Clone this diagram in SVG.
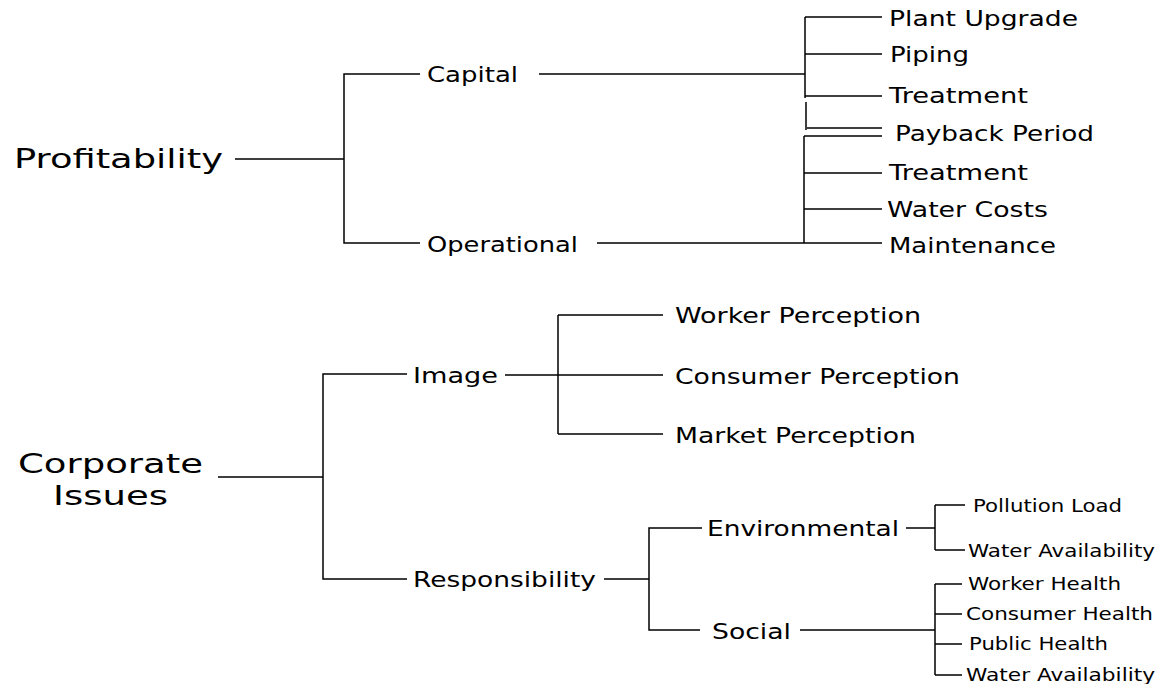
<svg xmlns="http://www.w3.org/2000/svg" width="1160" height="684" viewBox="0 0 1160 684">
  <style>
    text { font-family: "DejaVu Sans", Verdana, sans-serif; fill: #000; }
    .root { font-size: 26px; }
    .big { font-size: 26px; }
    .l1 { font-size: 21px; }
    .l3 { font-size: 17.5px; }
    .wire { fill: none; stroke: #000; stroke-width: 1.5; }
  </style>
  <rect width="1160" height="684" fill="#fff"/>

  <!-- connectors -->
  <g id="connectors" class="wire">
    <!-- Profitability tree -->
    <path d="M235 159 H344 M420 74 H344 V243 H420"/>
    <path d="M539 74 H805 M805 17 V98 M806 102 V130"/>
    <path d="M805 17 H882 M805 54 H882 M805 96 H882 M807 128 H882"/>
    <path d="M597 243 H804 M804 136 V243 M804 136 H882 M804 173 H882 M804 209 H882 M804 243 H882"/>
    <!-- Corporate Issues tree -->
    <path d="M218 477 H323 M407 374 H323 V579 H407"/>
    <path d="M505 375 H558 M558 315 V434 M558 315 H663 M558 375 H663 M558 434 H663"/>
    <path d="M604 579 H649 M702 528 H649 V630 H700"/>
    <path d="M906 528 H935 M935 505 V550 M935 505 H965 M935 550 H965"/>
    <path d="M800 630 H935 M935 584 V675 M935 584 H962 M935 614 H962 M935 644 H962 M935 675 H962"/>
  </g>

  <!-- roots -->
  <g id="node-profitability"><text class="root" x="14" y="168" textLength="209" lengthAdjust="spacingAndGlyphs">Profitability</text></g>
  <g id="node-corporate-issues">
    <text class="big" x="18" y="473" textLength="185" lengthAdjust="spacingAndGlyphs">Corporate</text>
    <text class="big" x="53" y="505" textLength="115" lengthAdjust="spacingAndGlyphs">Issues</text>
  </g>

  <!-- profitability branches -->
  <g id="node-capital"><text class="l1" x="427" y="82" textLength="91" lengthAdjust="spacingAndGlyphs">Capital</text></g>
  <g id="node-operational"><text class="l1" x="427" y="252" textLength="151" lengthAdjust="spacingAndGlyphs">Operational</text></g>
  <g id="node-plant-upgrade"><text class="l1" x="889" y="26" textLength="189" lengthAdjust="spacingAndGlyphs">Plant Upgrade</text></g>
  <g id="node-piping"><text class="l1" x="890" y="62" textLength="79" lengthAdjust="spacingAndGlyphs">Piping</text></g>
  <g id="node-treatment-cap"><text class="l1" x="889" y="103" textLength="139" lengthAdjust="spacingAndGlyphs">Treatment</text></g>
  <g id="node-payback"><text class="l1" x="895" y="141" textLength="199" lengthAdjust="spacingAndGlyphs">Payback Period</text></g>
  <g id="node-treatment-op"><text class="l1" x="889" y="180" textLength="139" lengthAdjust="spacingAndGlyphs">Treatment</text></g>
  <g id="node-water-costs"><text class="l1" x="887" y="217" textLength="161" lengthAdjust="spacingAndGlyphs">Water Costs</text></g>
  <g id="node-maintenance"><text class="l1" x="889" y="253" textLength="167" lengthAdjust="spacingAndGlyphs">Maintenance</text></g>

  <!-- corporate branches -->
  <g id="node-image"><text class="l1" x="413" y="383" textLength="85" lengthAdjust="spacingAndGlyphs">Image</text></g>
  <g id="node-worker-perception"><text class="l1" x="675" y="323" textLength="246" lengthAdjust="spacingAndGlyphs">Worker Perception</text></g>
  <g id="node-consumer-perception"><text class="l1" x="675" y="384" textLength="285" lengthAdjust="spacingAndGlyphs">Consumer Perception</text></g>
  <g id="node-market-perception"><text class="l1" x="675" y="443" textLength="241" lengthAdjust="spacingAndGlyphs">Market Perception</text></g>
  <g id="node-responsibility"><text class="l1" x="413" y="587" textLength="183" lengthAdjust="spacingAndGlyphs">Responsibility</text></g>
  <g id="node-environmental"><text class="l1" x="707" y="536" textLength="192" lengthAdjust="spacingAndGlyphs">Environmental</text></g>
  <g id="node-social"><text class="l1" x="712" y="639" textLength="79" lengthAdjust="spacingAndGlyphs">Social</text></g>
  <g id="node-pollution-load"><text class="l3" x="973" y="512" textLength="149" lengthAdjust="spacingAndGlyphs">Pollution Load</text></g>
  <g id="node-water-avail-env"><text class="l3" x="968" y="557" textLength="187" lengthAdjust="spacingAndGlyphs">Water Availability</text></g>
  <g id="node-worker-health"><text class="l3" x="968" y="590" textLength="153" lengthAdjust="spacingAndGlyphs">Worker Health</text></g>
  <g id="node-consumer-health"><text class="l3" x="966" y="620" textLength="187" lengthAdjust="spacingAndGlyphs">Consumer Health</text></g>
  <g id="node-public-health"><text class="l3" x="969" y="650" textLength="139" lengthAdjust="spacingAndGlyphs">Public Health</text></g>
  <g id="node-water-avail-soc"><text class="l3" x="966" y="681" textLength="189" lengthAdjust="spacingAndGlyphs">Water Availability</text></g>
</svg>
